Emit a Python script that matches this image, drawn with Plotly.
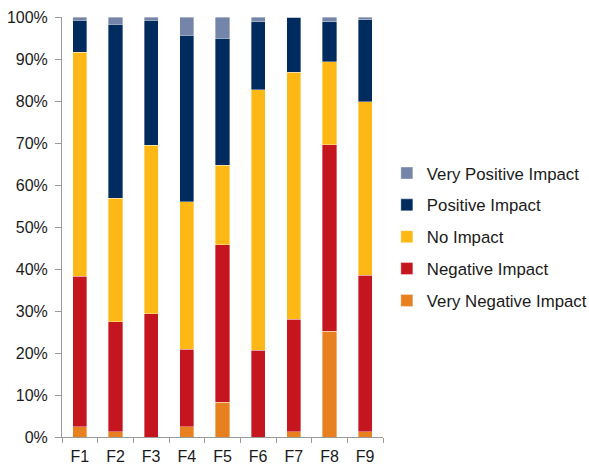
import plotly.graph_objects as go

categories = ["F1", "F2", "F3", "F4", "F5", "F6", "F7", "F8", "F9"]

very_negative = [2.5, 1.2, 0.0, 2.5, 8.3, 0.0, 1.2, 25.2, 1.2]
negative = [35.8, 26.3, 29.4, 18.4, 37.5, 20.6, 26.8, 44.4, 37.3]
no_impact = [53.3, 29.4, 40.1, 35.1, 18.9, 62.1, 58.8, 19.7, 41.3]
positive = [7.6, 41.4, 29.7, 39.6, 30.3, 16.2, 13.2, 9.6, 19.6]
very_positive = [0.8, 1.7, 0.8, 4.4, 5.0, 1.1, 0.0, 1.1, 0.6]

series = [
    ("Very Negative Impact", very_negative, "#E8801F"),
    ("Negative Impact", negative, "#C5161F"),
    ("No Impact", no_impact, "#FDB815"),
    ("Positive Impact", positive, "#002B5E"),
    ("Very Positive Impact", very_positive, "#7585AA"),
]

font_family = "Liberation Sans, Arial, Helvetica, sans-serif"
text_color = "#1a1a1a"
axis_color = "#9a9a9a"

fig = go.Figure()
n = len(series)
for i, (name, values, color) in enumerate(series):
    fig.add_trace(go.Bar(
        x=categories,
        y=values,
        name=name,
        legendgroup=f"g{i}",
        legendrank=n - i,
        marker=dict(color=color, line=dict(color="rgba(255,255,255,0.6)", width=0.6)),
    ))

fig.update_layout(
    width=589,
    height=467,
    margin=dict(l=62, r=206, t=17, b=30, autoexpand=False),
    paper_bgcolor="white",
    plot_bgcolor="white",
    barmode="stack",
    barnorm="percent",
    bargap=0.6,
    font=dict(family=font_family, size=16, color=text_color),
    showlegend=True,
    legend=dict(
        x=1.012,
        xanchor="left",
        y=0.67,
        yanchor="top",
        traceorder="grouped",
        tracegroupgap=7,
        font=dict(family=font_family, size=16.8, color=text_color),
        bgcolor="rgba(0,0,0,0)",
        itemclick=False,
    ),
    xaxis=dict(
        showline=True,
        linecolor=axis_color,
        linewidth=1,
        ticks="outside",
        tickson="boundaries",
        ticklen=5,
        tickcolor=axis_color,
        showgrid=False,
        automargin=False,
        ticklabelstandoff=5,
        tickfont=dict(size=16, color=text_color),
    ),
    yaxis=dict(
        range=[0, 100],
        tickvals=[0, 10, 20, 30, 40, 50, 60, 70, 80, 90, 100],
        ticktext=["0%", "10%", "20%", "30%", "40%", "50%", "60%", "70%", "80%", "90%", "100%"],
        showline=True,
        linecolor=axis_color,
        linewidth=1,
        ticks="outside",
        ticklen=6,
        tickcolor=axis_color,
        showgrid=False,
        zeroline=False,
        automargin=False,
        ticklabelstandoff=4,
        tickfont=dict(size=16, color=text_color),
    ),
)

fig.write_html("out.html")
